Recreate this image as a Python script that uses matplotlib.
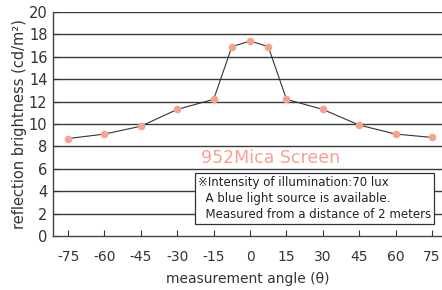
import numpy as np
import matplotlib
matplotlib.use("Agg")
import matplotlib.pyplot as plt

plt.rcParams['font.family'] = ['DejaVu Sans', 'Noto Sans CJK JP']

# measured data
angles = [-75, -60, -45, -30, -15, -7.5, 0, 7.5, 15, 30, 45, 60, 75]
brightness = [8.7, 9.1, 9.8, 11.3, 12.2, 16.9, 17.4, 16.9, 12.2, 11.3, 9.9, 9.1, 8.8]
tick_angles = [-75, -60, -45, -30, -15, 0, 15, 30, 45, 60, 75]
y_ticks = list(range(0, 21, 2))

note_lines = ["※Intensity of illumination:70 lux",
              "  A blue light source is available.",
              "  Measured from a distance of 2 meters"]

fig = plt.figure(figsize=(4.42, 2.90), dpi=100)
ax = fig.add_axes([0.12, 0.186, 0.88, 0.773])

for y in y_ticks[1:]:
    ax.axhline(y, color='#3a3a3a', lw=1.0, zorder=1)

ax.plot(angles, brightness, color='#333333', lw=0.8, zorder=2)
ax.plot(angles, brightness, 'o', color='#f7a191', ms=5.5, mec='none', zorder=3)

ax.set_xlim(-81.2, 79.1)
ax.set_ylim(0, 20)
ax.set_xticks(tick_angles)
ax.set_xticklabels([str(a) for a in tick_angles])
ax.set_yticks(y_ticks)
ax.tick_params(axis='x', direction='in', length=4, width=0.8, colors='#333333',
               labelcolor='#333333', labelsize=10, pad=10)
ax.tick_params(axis='y', direction='in', length=4, width=0.8, colors='#333333',
               labelcolor='#333333', labelsize=10.5, pad=4)
for s in ['top', 'right']:
    ax.spines[s].set_visible(False)
for s in ['left', 'bottom']:
    ax.spines[s].set_color('#444444')
    ax.spines[s].set_linewidth(1.0)

ax.set_xlabel('measurement angle (θ)', fontsize=10, color='#333333', labelpad=6)
ax.set_ylabel('reflection brightness (cd/m²)', fontsize=10.5, color='#333333', labelpad=1)

ax.text(8.5, 7.0, '952Mica Screen', fontsize=12.5, color='#f7a191',
        ha='center', va='center', zorder=4)

ax.text(-21.5, 3.35, "\n".join(note_lines), fontsize=8.5, color='#222222',
        ha='left', va='center', linespacing=1.3, zorder=5,
        bbox=dict(boxstyle='square,pad=0.25', fc='white', ec='#333333', lw=0.9))

fig.savefig('out.png', dpi=100)
